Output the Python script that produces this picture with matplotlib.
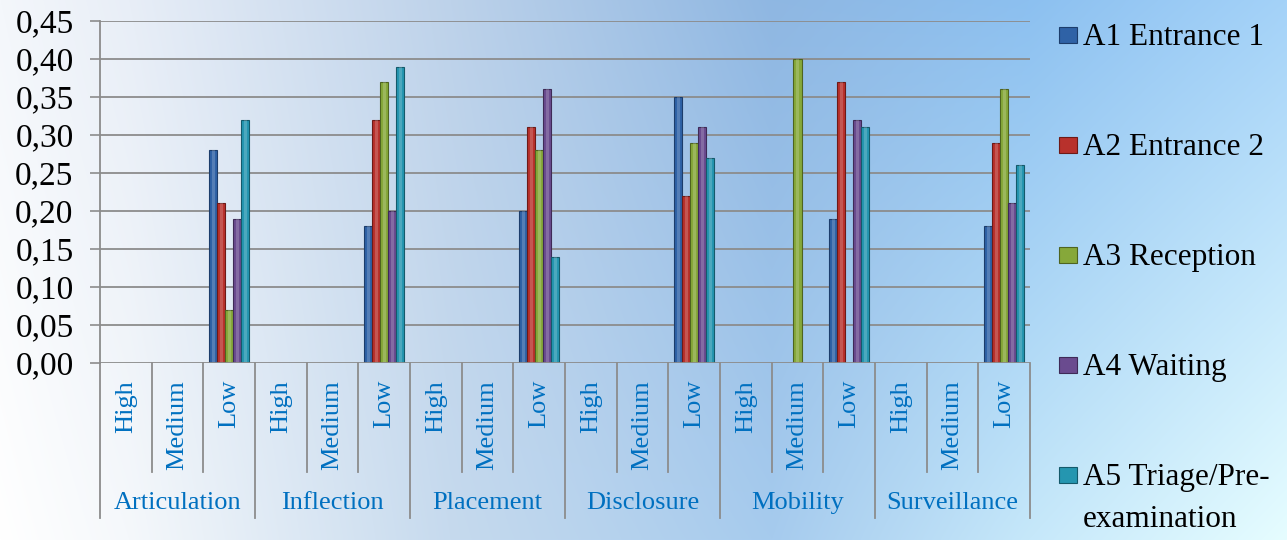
import matplotlib
matplotlib.use("Agg")
import matplotlib.pyplot as plt
import matplotlib.colors as mcolors
from matplotlib.patches import Rectangle
import numpy as np

plt.rcParams["font.family"] = ["Liberation Serif", "DejaVu Serif"]

GROUPS = ["Articulation", "Inflection", "Placement", "Disclosure", "Mobility", "Surveillance"]
LEVELS = ["High", "Medium", "Low"]

SERIES_NAMES = ["A1 Entrance 1", "A2 Entrance 2", "A3 Reception", "A4 Waiting",
                "A5 Triage/Pre-\nexamination"]

# one value per (group, level) slot; None = no bar
a1 = [None, None, 0.28, None, None, 0.18, None, None, 0.20,
      None, None, 0.35, None, None, 0.19, None, None, 0.18]
a2 = [None, None, 0.21, None, None, 0.32, None, None, 0.31,
      None, None, 0.22, None, None, 0.37, None, None, 0.29]
a3 = [None, None, 0.07, None, None, 0.37, None, None, 0.28,
      None, None, 0.29, None, 0.40, None, None, None, 0.36]
a4 = [None, None, 0.19, None, None, 0.20, None, None, 0.36,
      None, None, 0.31, None, None, 0.32, None, None, 0.21]
a5 = [None, None, 0.32, None, None, 0.39, None, None, 0.14,
      None, None, 0.27, None, None, 0.31, None, None, 0.26]

COLORS = ["#2f62a6", "#b8312c", "#86a83a", "#6a4b8f", "#2596b0"]
EDGES = ["#1c3d6b", "#6e1a17", "#4e6420", "#3e2a57", "#145a6b"]
LABEL_BLUE = "#0070c0"
GRID = "#8c8c8c"

W, H = 1287, 540
fig = plt.figure(figsize=(W / 100, H / 100), dpi=100)

# background wash: white on the left, sky blue through the middle, pale cyan bottom right
bg = fig.add_axes([0, 0, 1, 1], zorder=-10)
stops = [0, 0.1, 0.35, 0.6, 0.8, 1.0]
top = ["#f4f7fb", "#e8eef7", "#bdd2ea", "#8fb7e2", "#8cc0f0", "#a4d2f8"]
bottom = ["#ffffff", "#f5f8fb", "#c6daee", "#a6cbee", "#c6e8fa", "#e6fdff"]
xx = np.linspace(0, 1, W)
yy = np.linspace(0, 1, H)[:, None, None]
top_rgb = np.stack([np.interp(xx, stops, [mcolors.to_rgb(c)[k] for c in top]) for k in range(3)], -1)
bot_rgb = np.stack([np.interp(xx, stops, [mcolors.to_rgb(c)[k] for c in bottom]) for k in range(3)], -1)
img = top_rgb[None] * (1 - yy) + bot_rgb[None] * yy
bg.imshow(img, aspect="auto", extent=[0, 1, 0, 1])
bg.axis("off")

ax = fig.add_axes([100 / W, 177 / H, 930 / W, 342 / H])
ax.set_facecolor("none")

n_cat = len(GROUPS) * len(LEVELS)
x = np.arange(n_cat)
bar_w = 0.155
series = [a1, a2, a3, a4, a5]
for i, vals in enumerate(series):
    v = np.array([np.nan if s is None else s for s in vals], dtype=float)
    pos = x + (i - 2) * bar_w
    ax.bar(pos, v, bar_w, color=COLORS[i], edgecolor=EDGES[i], linewidth=0.8, zorder=3)
    # lighter centre stripe for a rounded look
    ax.bar(pos, v, bar_w * 0.35, color="white", alpha=0.18, linewidth=0, zorder=4)

ax.set_xlim(-0.5, n_cat - 0.5)
ax.set_ylim(0, 0.45)
yt = np.arange(0, 0.451, 0.05)
ax.set_yticks(yt)
ax.set_yticklabels([f"{t:.2f}".replace(".", ",") for t in yt], fontsize=24)
ax.tick_params(axis="y", direction="out", length=7, width=1.2, color=GRID, pad=12)
ax.set_xticks([])
for t in yt[1:]:
    ax.axhline(t, color=GRID, lw=1.3, zorder=1)
for s in ["top", "right", "bottom"]:
    ax.spines[s].set_visible(False)
ax.spines["left"].set_color(GRID)
ax.spines["left"].set_linewidth(1.3)
ax.axhline(0, color=GRID, lw=1.3, zorder=5)

# two-level category axis drawn below the plot
tr = ax.get_xaxis_transform()
for b in range(n_cat + 1):
    y_end = -0.4532 if b % 3 == 0 else -0.3187
    ax.plot([b - 0.5, b - 0.5], [0, y_end], color=GRID, lw=1.3, transform=tr, clip_on=False)
for k in range(n_cat):
    ax.text(k, -0.05, LEVELS[k % 3], rotation=90, ha="center", va="top",
            fontsize=19, color=LABEL_BLUE, transform=tr)
for g, name in enumerate(GROUPS):
    ax.text(g * 3 + 1, -0.409, name, ha="center", va="center",
            fontsize=19, color=LABEL_BLUE, transform=tr)

# legend column on the right; wrapped names continue on the next line
for i, name in enumerate(SERIES_NAMES):
    cy = 35 + i * 110
    fig.add_artist(Rectangle((1059 / W, 1 - (cy + 8) / H), 18 / W, 16 / H,
                             transform=fig.transFigure, facecolor=COLORS[i],
                             edgecolor=EDGES[i], lw=0.8))
    for j, line in enumerate(name.split("\n")):
        fig.text(1083 / W, 1 - (cy + 10 + j * 42) / H, line, ha="left", va="baseline",
                 fontsize=22.5, color="black")

fig.savefig("out.png", dpi=100)
